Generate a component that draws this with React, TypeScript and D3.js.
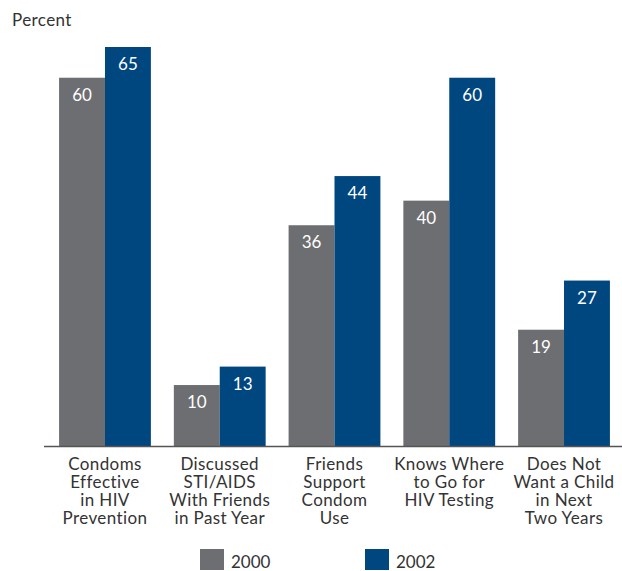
import React from "react";
import * as d3 from "d3";

const categories: string[][] = [
  ["Condoms", "Effective", "in HIV", "Prevention"],
  ["Discussed", "STI/AIDS", "With Friends", "in Past Year"],
  ["Friends", "Support", "Condom", "Use"],
  ["Knows Where", "to Go for", "HIV Testing"],
  ["Does Not", "Want a Child", "in Next", "Two Years"],
];
const series2000 = [60, 10, 36, 40, 19];
const series2002 = [65, 13, 44, 60, 27];
const seriesNames = ["2000", "2002"];
const colors = ["#6d6e71", "#00467f"];

export default function App() {
  const W = 622, H = 571;
  const baseline = 446.5;
  const font = "Lato, 'Open Sans', sans-serif";
  const x = d3.scaleBand<number>().domain(d3.range(categories.length)).range([47.6, 621.4]).paddingInner(0.2).paddingOuter(0.1);
  const sub = d3.scaleBand<number>().domain([0, 1]).range([0, x.bandwidth()]);
  const y = d3.scaleLinear().domain([0, 65]).range([baseline, 47]);
  const data = [series2000, series2002];
  return (
    <svg width={W} height={H} style={{ position: "absolute", left: 0, top: 0 }} fontFamily={font}>
      <text x={12} y={26} fontSize={17} letterSpacing={0.4} fill="#333">Percent</text>
      {data.map((s, si) =>
        s.map((v, i) => {
          const bx = (x(i) as number) + (sub(si) as number);
          return (
            <g key={`${si}-${i}`}>
              <rect x={bx} y={y(v)} width={sub.bandwidth()} height={baseline - y(v)} fill={colors[si]} />
              <text x={bx + sub.bandwidth() / 2} y={y(v) + 23} textAnchor="middle" fontSize={17} fill="#fff">{v}</text>
            </g>
          );
        })
      )}
      <line x1={44} x2={622} y1={baseline} y2={baseline} stroke="#555" strokeWidth={1.5} />
      {categories.map((lines, i) => (
        <text key={i} textAnchor="middle" fontSize={17} letterSpacing={0.4} fill="#333">
          {lines.map((l, li) => (
            <tspan key={li} x={(x(i) as number) + x.bandwidth() / 2} y={470 + li * 18}>{l}</tspan>
          ))}
        </text>
      ))}
      {seriesNames.map((n, i) => (
        <g key={n} transform={`translate(${200 + i * 165},549)`}>
          <rect x={0} y={0} width={24} height={21} fill={colors[i]} />
          <text x={31} y={19} fontSize={17} fill="#333">{n}</text>
        </g>
      ))}
    </svg>
  );
}
